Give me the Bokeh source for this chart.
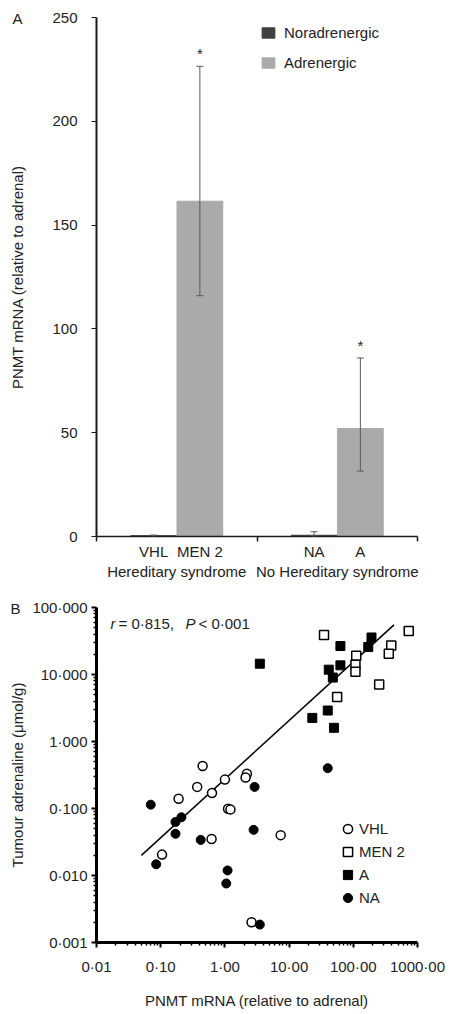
from bokeh.plotting import figure
from bokeh.layouts import column
from bokeh.models import (Range1d, FixedTicker, CustomJSTickFormatter, LinearAxis,
                          Whisker, ColumnDataSource, Label, Legend, LegendItem, TeeHead)
from bokeh.embed import file_html
from bokeh.resources import INLINE
from bokeh.core.properties import value

FONT = "Liberation Sans"

# ---------------- Panel A data ----------------
group_names = ["Hereditary syndrome", "No Hereditary syndrome"]
bar_labels = ["VHL", "MEN 2", "NA", "A"]
noradrenergic_mean = [0.4, 0.6]
noradrenergic_low = [0.2, 0.2]
noradrenergic_high = [0.7, 2.3]
adrenergic_mean = [161.5, 52.0]
adrenergic_low = [116.0, 31.5]
adrenergic_high = [226.5, 86.0]
significance = ["*", "*"]
y_ticks_a = [0, 50, 100, 150, 200, 250]

# ---------------- Panel B data ----------------
vhl_x = [0.45, 1.0, 2.2, 2.1, 0.37, 0.19, 0.63, 1.12, 1.22, 0.62, 7.4, 0.105, 2.6]
vhl_y = [0.43, 0.27, 0.33, 0.29, 0.21, 0.14, 0.17, 0.099, 0.097, 0.035, 0.040, 0.0205, 0.002]
men2_x = [35, 730, 390, 357, 111, 108, 108, 253, 56]
men2_y = [39, 44.5, 27, 20.4, 19, 14, 11, 7.1, 4.6]
a_x = [3.5, 63, 192, 171, 63, 41.5, 48, 23, 40, 50]
a_y = [14.5, 26.6, 35.7, 25.7, 13.7, 11.8, 9.0, 2.25, 2.9, 1.6]
na_x = [40, 2.9, 0.07, 0.21, 0.17, 0.17, 0.42, 2.8, 0.085, 1.1, 1.05, 3.5]
na_y = [0.40, 0.21, 0.114, 0.074, 0.063, 0.042, 0.034, 0.048, 0.0147, 0.0119, 0.0076, 0.00185]
fit_x = [0.05, 430]
fit_y = [0.02, 55]
x_ticks_b = [0.01, 0.1, 1, 10, 100, 1000]
x_tick_labels_b = ["0·01", "0·10", "1·00", "10·00", "100·00", "1000·00"]
y_ticks_b = [0.001, 0.01, 0.1, 1, 10, 100]
y_tick_labels_b = ["0·001", "0·010", "0·100", "1·000", "10·000", "100·000"]

AXIS_COLOR = "#1a1a1a"
TEXT_COLOR = "#222222"

# ---------------- Panel A ----------------
n_groups = len(group_names)
offset = 0.144
bar_w = 0.285
x_nor = [i + 0.5 - offset for i in range(n_groups)]
x_adr = [i + 0.5 + offset for i in range(n_groups)]
bar_pos = []
for i in range(n_groups):
    bar_pos += [x_nor[i], x_adr[i]]

pA = figure(width=452, height=590, output_backend="svg", toolbar_location=None,
            x_range=Range1d(0, n_groups), y_range=Range1d(0, 250),
            min_border_left=93, min_border_right=29, min_border_top=14, min_border_bottom=54)
pA.outline_line_color = None
pA.grid.visible = False

r_nor = pA.vbar(x=x_nor, top=noradrenergic_mean, width=bar_w, color="#404040")
r_adr = pA.vbar(x=x_adr, top=adrenergic_mean, width=bar_w, color="#aaaaaa")

for xs, lo, hi in [(x_nor, noradrenergic_low, noradrenergic_high),
                   (x_adr, adrenergic_low, adrenergic_high)]:
    src = ColumnDataSource(dict(x=xs, lo=lo, hi=hi))
    w = Whisker(source=src, base="x", lower="lo", upper="hi", dimension="height",
                line_color="#5a5a5a", line_width=1, level="overlay",
                upper_head=TeeHead(size=7, line_color="#5a5a5a", line_width=1),
                lower_head=TeeHead(size=7, line_color="#5a5a5a", line_width=1))
    pA.add_layout(w)

pA.text(x=x_adr, y=adrenergic_high, text=significance, text_align="center",
        text_baseline="bottom", y_offset=-4, text_font=value(FONT), text_font_size="15px",
        text_color=TEXT_COLOR)

yax = pA.yaxis[0]
yax.ticker = FixedTicker(ticks=y_ticks_a, minor_ticks=[])
yax.axis_line_width = 2
yax.axis_line_color = AXIS_COLOR
yax.major_tick_line_color = AXIS_COLOR
yax.major_tick_out = 5
yax.major_tick_in = 0
yax.major_label_standoff = 14
yax.major_label_text_font = FONT
yax.major_label_text_font_size = "15px"
yax.major_label_text_color = TEXT_COLOR
yax.axis_label = "PNMT mRNA (relative to adrenal)"
yax.axis_label_text_font = FONT
yax.axis_label_text_font_style = "normal"
yax.axis_label_text_font_size = "15px"
yax.axis_label_text_color = TEXT_COLOR
yax.axis_label_standoff = 23

label_code = """
let best = 0; let d = Infinity;
for (let i = 0; i < pos.length; i++) { const e = Math.abs(tick - pos[i]); if (e < d) { d = e; best = i; } }
return labs[best];
"""

xax = pA.xaxis[0]
xax.ticker = FixedTicker(ticks=bar_pos, minor_ticks=list(range(n_groups + 1)))
xax.formatter = CustomJSTickFormatter(args=dict(pos=bar_pos, labs=bar_labels), code=label_code)
xax.axis_line_width = 1.5
xax.axis_line_color = AXIS_COLOR
xax.major_tick_line_color = None
xax.major_tick_out = 4
xax.major_tick_in = 0
xax.minor_tick_line_color = AXIS_COLOR
xax.minor_tick_line_width = 1.5
xax.minor_tick_out = 5
xax.minor_tick_in = 0
xax.major_label_standoff = 1
xax.major_label_text_font = FONT
xax.major_label_text_font_size = "15px"
xax.major_label_text_color = TEXT_COLOR

group_pos = [i + 0.5 for i in range(n_groups)]
gax = LinearAxis(ticker=FixedTicker(ticks=group_pos, minor_ticks=[]),
                 formatter=CustomJSTickFormatter(args=dict(pos=group_pos, labs=group_names),
                                                 code=label_code))
gax.axis_line_color = None
gax.major_tick_line_color = None
gax.major_tick_out = 0
gax.major_tick_in = 0
gax.minor_tick_line_color = None
gax.major_label_standoff = 0
gax.major_label_text_font = FONT
gax.major_label_text_font_size = "15px"
gax.major_label_text_color = TEXT_COLOR
pA.add_layout(gax, "below")

legA = Legend(items=[LegendItem(label="Noradrenergic", renderers=[r_nor]),
                     LegendItem(label="Adrenergic", renderers=[r_adr])],
              location=(164, 465), padding=0, margin=0, spacing=13,
              glyph_width=16, glyph_height=13, label_height=15, label_standoff=8,
              label_text_font=FONT, label_text_font_size="15px", label_text_color=TEXT_COLOR,
              border_line_alpha=0, background_fill_alpha=0)
pA.add_layout(legA)

pA.add_layout(Label(x=-84, y=-1, x_units="screen", y_units="screen", text="A",
                    text_font=FONT, text_font_size="15px", text_color=TEXT_COLOR,
                    text_baseline="middle"), "above")

# ---------------- Panel B ----------------
pB = figure(width=452, height=424, output_backend="svg", toolbar_location=None,
            x_axis_type="log", y_axis_type="log",
            x_range=Range1d(0.01, 1000), y_range=Range1d(0.001, 100),
            min_border_left=96, min_border_right=35, min_border_top=17, min_border_bottom=72)
pB.outline_line_color = None
pB.grid.visible = False

pB.line(fit_x, fit_y, line_color="black", line_width=1.5)
r_vhl = pB.scatter(vhl_x, vhl_y, marker="circle", size=9, fill_color="white",
                   line_color="black", line_width=1.5)
r_men2 = pB.scatter(men2_x, men2_y, marker="square", size=9, fill_color="white",
                    line_color="black", line_width=1.5)
r_a = pB.scatter(a_x, a_y, marker="square", size=9, fill_color="black", line_color="black")
r_na = pB.scatter(na_x, na_y, marker="circle", size=9, fill_color="black", line_color="black")

def minor_list(ticks):
    out = []
    for t in ticks[:-1]:
        out += [t * m for m in range(2, 10)]
    return out

fmt_code = """
let best = 0; let d = Infinity;
for (let i = 0; i < pos.length; i++) { const e = Math.abs(Math.log10(tick) - Math.log10(pos[i])); if (e < d) { d = e; best = i; } }
return labs[best];
"""

bx = pB.xaxis[0]
bx.ticker = FixedTicker(ticks=x_ticks_b, minor_ticks=minor_list(x_ticks_b))
bx.formatter = CustomJSTickFormatter(args=dict(pos=x_ticks_b, labs=x_tick_labels_b), code=fmt_code)
by = pB.yaxis[0]
by.ticker = FixedTicker(ticks=y_ticks_b, minor_ticks=minor_list(y_ticks_b))
by.formatter = CustomJSTickFormatter(args=dict(pos=y_ticks_b, labs=y_tick_labels_b), code=fmt_code)

for ax in (bx, by):
    ax.axis_line_width = 3
    ax.axis_line_color = "black"
    ax.major_tick_line_color = "black"
    ax.major_tick_line_width = 2
    ax.major_tick_out = 5
    ax.major_tick_in = 0
    ax.minor_tick_line_color = "black"
    ax.minor_tick_line_width = 1.5
    ax.minor_tick_out = 3
    ax.minor_tick_in = 0
    ax.major_label_text_font = FONT
    ax.major_label_text_font_size = "15px"
    ax.major_label_text_color = TEXT_COLOR
    ax.axis_label_text_font = FONT
    ax.axis_label_text_font_style = "normal"
    ax.axis_label_text_font_size = "15px"
    ax.axis_label_text_color = TEXT_COLOR

bx.major_label_standoff = 10
bx.axis_label = "PNMT mRNA (relative to adrenal)"
bx.axis_label_standoff = 14
by.major_label_standoff = 4
by.axis_label = "Tumour adrenaline (μmol/g)"
by.axis_label_standoff = 3

legB = Legend(items=[LegendItem(label="VHL", renderers=[r_vhl]),
                     LegendItem(label="MEN 2", renderers=[r_men2]),
                     LegendItem(label="A", renderers=[r_a]),
                     LegendItem(label="NA", renderers=[r_na])],
              location=(240, 33), padding=0, margin=0, spacing=0,
              glyph_width=23, glyph_height=23, label_height=23, label_standoff=0,
              label_text_font=FONT, label_text_font_size="15px", label_text_color=TEXT_COLOR,
              border_line_alpha=0, background_fill_alpha=0)
pB.add_layout(legB)

for txt, xx, style in [("r", 14, "italic"), ("= 0·815,", 22, "normal"),
                       ("P", 89, "italic"), ("< 0·001", 102, "normal")]:
    pB.add_layout(Label(x=xx, y=319, x_units="screen", y_units="screen", text=txt,
                        text_font=FONT, text_font_size="15px", text_font_style=style,
                        text_color=TEXT_COLOR, text_baseline="alphabetic"))

pB.add_layout(Label(x=-86, y=-1, x_units="screen", y_units="screen", text="B",
                    text_font=FONT, text_font_size="15px", text_color=TEXT_COLOR,
                    text_baseline="middle"), "above")

layout = column(pA, pB)
open("out.html", "w").write(file_html(layout, INLINE))
